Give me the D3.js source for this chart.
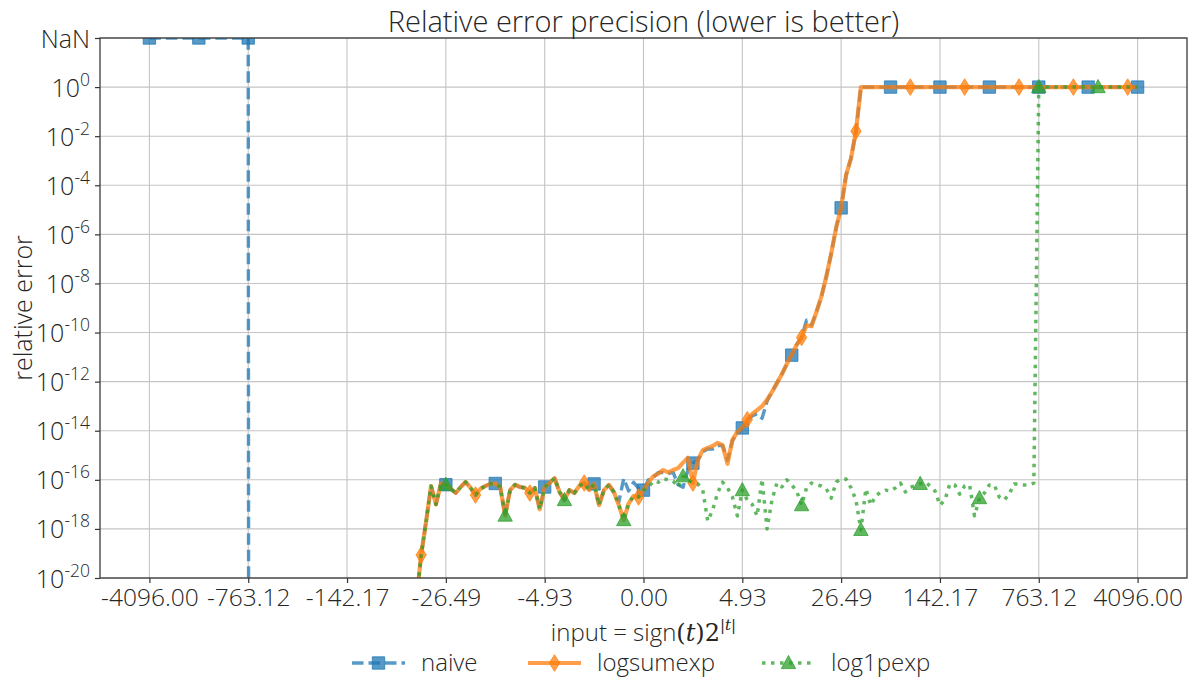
<!DOCTYPE html>
<html><head><meta charset="utf-8">
<script src="https://cdn.jsdelivr.net/npm/d3@7"></script>
<style>
body{margin:0;background:#fff;}
svg text{font-family:"Open Sans",sans-serif;font-weight:300;fill:#262626;}
</style></head><body>
<svg id="c" width="1200" height="696"></svg>
<script>
// ---------- data ----------
const sampleIndex = d3.range(0, 201);            // sample index along t
const xTickIndex = [0,20,40,60,80,100,120,140,160,180,200];
const xTickLabels = ["-4096.00","-763.12","-142.17","-26.49","-4.93","0.00","4.93","26.49","142.17","763.12","4096.00"];
const yTickValues = [1e-20,1e-18,1e-16,1e-14,1e-12,1e-10,1e-8,1e-6,1e-4,1e-2,1e0,1e2];
const yTickExponents = ["-20","-18","-16","-14","-12","-10","-8","-6","-4","-2","0",null];
const seriesNames = ["naive","logsumexp","log1pexp"];

const naive = [
NaN,NaN,NaN,NaN,NaN,NaN,NaN,NaN,NaN,NaN,
NaN,NaN,NaN,NaN,NaN,NaN,NaN,NaN,NaN,NaN,
NaN,0,0,0,0,0,0,0,0,0,
0,0,0,0,0,0,0,0,0,0,
0,0,0,0,0,0,0,0,0,0,
0,0,0,0,1e-21,8.7e-20,2.0e-18,5.6e-17,1.0e-17,7.1e-17,
6.3e-17,4.3e-17,2.9e-17,5.1e-17,8.1e-17,4.7e-17,2.4e-17,4.3e-17,5.6e-17,6.8e-17,
7.1e-17,5.1e-17,3.5e-18,3.8e-17,6.3e-17,5.1e-17,4.7e-17,2.9e-17,4.7e-17,6.3e-18,
5.1e-17,7.4e-17,1.17e-16,3.2e-17,1.5e-17,3.8e-17,2.9e-17,5.6e-17,7.4e-17,3.8e-17,
6.8e-17,9.3e-18,3.8e-17,6.2e-17,3.2e-17,1.26e-17,1.12e-16,3.5e-17,7.9e-17,4.5e-17,
3.8e-17,1.0e-16,1.26e-16,2.0e-16,2.0e-16,1.8e-16,2.0e-16,6.3e-17,5.0e-17,2.5e-16,
4.8e-16,6.3e-16,1.4e-15,1.8e-15,1.8e-15,2.5e-15,2.5e-15,6.3e-16,4.0e-15,7.9e-15,
1.3e-14,2.5e-14,4.0e-14,5.0e-14,3.2e-14,1.6e-13,3.8e-13,8.7e-13,2.0e-12,5.2e-12,
1.2e-11,3.2e-11,6.3e-11,3.2e-10,2.0e-10,6.9e-10,2.9e-9,1.9e-8,1.7e-7,1.9e-6,
1.2e-5,2.6e-4,1.26e-3,1.6e-2,1,1,1,1,1,1,
1,1,1,1,1,1,1,1,1,1,
1,1,1,1,1,1,1,1,1,1,
1,1,1,1,1,1,1,1,1,1,
1,1,1,1,1,1,1,1,1,1,
1,1,1,1,1,1,1,1,1,1,
1
];

const logsumexp = [
0,0,0,0,0,0,0,0,0,0,
0,0,0,0,0,0,0,0,0,0,
0,0,0,0,0,0,0,0,0,0,
0,0,0,0,0,0,0,0,0,0,
0,0,0,0,0,0,0,0,0,0,
0,0,0,0,1e-21,8.7e-20,2.0e-18,5.6e-17,1.0e-17,7.1e-17,
6.3e-17,4.3e-17,2.9e-17,5.1e-17,8.1e-17,4.7e-17,2.4e-17,4.3e-17,5.6e-17,6.8e-17,
7.1e-17,5.1e-17,3.5e-18,3.8e-17,6.3e-17,5.1e-17,4.7e-17,2.9e-17,4.7e-17,6.3e-18,
5.1e-17,7.4e-17,1.17e-16,3.2e-17,1.5e-17,3.8e-17,2.9e-17,5.6e-17,7.4e-17,3.8e-17,
6.8e-17,9.3e-18,3.8e-17,6.2e-17,3.2e-17,9.3e-18,2.3e-18,1.1e-17,2.2e-17,2.0e-17,
3.8e-17,7.9e-17,1.4e-16,1.8e-16,2.5e-16,2.0e-16,2.5e-16,3.0e-16,5.0e-16,7.9e-16,
7.4e-17,6.5e-16,1.6e-15,2.0e-15,2.4e-15,3.2e-15,2.6e-15,4.5e-16,4.2e-15,8.9e-15,
1.35e-14,2.8e-14,4.8e-14,6.9e-14,1.0e-13,1.8e-13,3.8e-13,8.7e-13,2.0e-12,5.2e-12,
1.26e-11,3.2e-11,6.3e-11,2.0e-10,1.8e-10,6.9e-10,2.9e-9,1.9e-8,1.7e-7,1.9e-6,
1.2e-5,2.6e-4,1.26e-3,1.6e-2,1,1,1,1,1,1,
1,1,1,1,1,1,1,1,1,1,
1,1,1,1,1,1,1,1,1,1,
1,1,1,1,1,1,1,1,1,1,
1,1,1,1,1,1,1,1,1,1,
1,1,1,1,1,1,1,1,1,1,
1
];

const log1pexp = [
0,0,0,0,0,0,0,0,0,0,
0,0,0,0,0,0,0,0,0,0,
0,0,0,0,0,0,0,0,0,0,
0,0,0,0,0,0,0,0,0,0,
0,0,0,0,0,0,0,0,0,0,
0,0,0,0,1e-21,8.7e-20,2.0e-18,5.6e-17,1.0e-17,7.1e-17,
6.3e-17,4.3e-17,2.9e-17,5.1e-17,8.1e-17,4.7e-17,2.4e-17,4.3e-17,5.6e-17,6.8e-17,
7.1e-17,5.1e-17,3.5e-18,3.8e-17,6.3e-17,5.1e-17,4.7e-17,2.9e-17,4.7e-17,6.3e-18,
5.1e-17,7.4e-17,1.17e-16,3.2e-17,1.5e-17,3.8e-17,2.9e-17,5.6e-17,7.4e-17,3.8e-17,
6.8e-17,9.3e-18,3.8e-17,6.2e-17,3.2e-17,9.3e-18,2.3e-18,1.1e-17,2.2e-17,2.0e-17,
3.8e-17,5.0e-17,8.9e-17,7.9e-17,1.12e-16,1.0e-16,8.9e-17,5.0e-17,1.4e-16,1.0e-16,
7.4e-17,6.8e-17,3.8e-17,2.1e-18,5.9e-18,2.9e-17,8.1e-17,4.7e-17,2.0e-17,3.4e-18,
3.8e-17,1.5e-17,1.0e-17,3.4e-18,1.07e-16,1.0e-18,1.5e-17,7.4e-17,5.1e-17,1.0e-16,
6.2e-17,3.5e-17,9.3e-18,4.7e-17,7.4e-17,6.2e-17,5.6e-17,4.3e-17,1.8e-17,8.1e-17,
1.07e-16,1.07e-16,4.7e-17,1.5e-17,9.1e-19,4.3e-17,9.3e-18,2.2e-17,3.2e-17,3.8e-17,
3.5e-17,4.7e-17,7.4e-17,3.2e-17,5.1e-17,5.6e-17,6.8e-17,8.1e-17,5.6e-17,3.5e-17,
9.3e-18,1.5e-17,6.8e-17,6.2e-17,2.6e-17,5.6e-17,6.2e-17,3.4e-18,1.8e-17,2.9e-17,
6.2e-17,6.2e-17,2.0e-17,1.5e-17,2.6e-17,6.8e-17,6.8e-17,6.2e-17,6.2e-17,7.4e-17,
1,1,1,1,1,1,1,1,1,1,
1,1,1,1,1,1,1,1,1,1,
1
];

// ---------- layout / styles ----------
const L = 100, R = 1187, T = 38, B = 578;
const svg = d3.select("#c");
const x = d3.scaleLinear().domain([-10, 210]).range([L, R]);
const y = d3.scaleLog().domain([1e-20, 1e2]).range([B, T]);
const NAN_LEVEL = 1e2, ZERO_LEVEL = 1e-300;
const yv = v => isNaN(v) ? NAN_LEVEL : Math.max(v, ZERO_LEVEL);

const styles = [
  {name: seriesNames[0], data: naive,     color: "#1f77b4", dash: "11.5,5", width: 3.4, every: 10, marker: "square"},
  {name: seriesNames[1], data: logsumexp, color: "#ff7f0e", dash: null,     width: 4.2, every: 11, marker: "diamond"},
  {name: seriesNames[2], data: log1pexp,  color: "#2ca02c", dash: "3.5,5.5", width: 3.5, every: 12, marker: "triangle"}
];
const ALPHA = 0.75;

function markerPath(type) {
  if (type === "square") return "M-6.2,-6.2H6.2V6.2H-6.2Z";
  if (type === "diamond") return "M0,-8.3L5.2,0L0,8.3L-5.2,0Z";
  return "M0,-7.6L7.2,5.6L-7.2,5.6Z";
}

// grid
const grid = svg.append("g");
grid.selectAll("line.v").data(xTickIndex).join("line")
  .attr("x1", d => x(d)).attr("x2", d => x(d)).attr("y1", T).attr("y2", B)
  .attr("stroke", "#c4c4c4").attr("stroke-width", 1.1);
grid.selectAll("line.h").data(yTickValues).join("line")
  .attr("x1", L).attr("x2", R).attr("y1", d => y(d)).attr("y2", d => y(d))
  .attr("stroke", "#c4c4c4").attr("stroke-width", 1.1);

// clip
svg.append("clipPath").attr("id", "plotclip").append("rect")
  .attr("x", L).attr("y", T).attr("width", R - L).attr("height", B - T);
const plot = svg.append("g").attr("clip-path", "url(#plotclip)");

const line = d3.line().x((d, i) => x(sampleIndex[i])).y(d => y(yv(d)));

styles.forEach(s => {
  plot.append("path").attr("d", line(s.data))
    .attr("fill", "none").attr("stroke", s.color).attr("stroke-opacity", ALPHA)
    .attr("stroke-width", s.width)
    .attr("stroke-dasharray", s.dash)
    .attr("stroke-linejoin", "round");
  const pts = sampleIndex.filter(i => i % s.every === 0);
  plot.selectAll(null).data(pts).join("path")
    .attr("d", markerPath(s.marker))
    .attr("transform", i => `translate(${x(sampleIndex[i])},${y(yv(s.data[i]))})`)
    .attr("fill", s.color).attr("fill-opacity", ALPHA)
    .attr("stroke", s.color).attr("stroke-opacity", ALPHA).attr("stroke-width", 1);
});

// axes
const xAxis = svg.append("g").attr("transform", `translate(0,${B})`)
  .call(d3.axisBottom(x).tickValues(xTickIndex).tickFormat((d, i) => xTickLabels[i]).tickSize(5).tickPadding(3));
xAxis.select(".domain").remove();
xAxis.selectAll(".tick line").attr("stroke", "#333").attr("stroke-width", 1.2);
xAxis.selectAll(".tick text").attr("font-size", 24.5).attr("font-family", null).attr("dy", "0.8em").attr("fill", "#262626");

const yAxis = svg.append("g").attr("transform", `translate(${L},0)`)
  .call(d3.axisLeft(y).tickValues(yTickValues).tickSize(5).tickPadding(5).tickFormat(() => ""));
yAxis.select(".domain").remove();
yAxis.selectAll(".tick line").attr("stroke", "#333").attr("stroke-width", 1.2);
yAxis.selectAll(".tick text").each(function(d, i) {
  const t = d3.select(this).attr("font-size", 25).attr("font-family", null).attr("dy", "0.36em").attr("fill", "#262626");
  const e = yTickExponents[i];
  if (e === null) { t.text("NaN"); return; }
  t.append("tspan").text("10");
  t.append("tspan").attr("dy", -11).attr("font-size", 17.5).text(e);
});

// spines
svg.append("rect").attr("x", L).attr("y", T).attr("width", R - L).attr("height", B - T)
  .attr("fill", "none").attr("stroke", "#3a3a3a").attr("stroke-width", 1.3);

// title & labels
svg.append("text").attr("x", (L + R) / 2).attr("y", 32).attr("text-anchor", "middle")
  .attr("font-size", 29).text("Relative error precision (lower is better)");

const xl = svg.append("text").attr("x", (L + R) / 2).attr("y", 641).attr("text-anchor", "middle").attr("font-size", 24);
xl.append("tspan").text("input = sign");
xl.append("tspan").style("font-family", "'DejaVu Serif',serif").style("font-weight", "400").text("(");
xl.append("tspan").style("font-family", "'DejaVu Serif',serif").style("font-style", "italic").style("font-weight", "400").text("t");
xl.append("tspan").style("font-family", "'DejaVu Serif',serif").style("font-weight", "400").text(")2");
xl.append("tspan").attr("dy", -11).attr("font-size", 15).style("font-family", "'DejaVu Serif',serif").style("font-style", "italic").style("font-weight", "400").text("|t|");

svg.append("text").attr("transform", `translate(32,${(T + B) / 2}) rotate(-90)`)
  .attr("text-anchor", "middle").attr("font-size", 25).text("relative error");

// legend
const legendX = [352, 528, 762];
const ly = 663;
styles.forEach((s, k) => {
  const g = svg.append("g");
  const x0 = legendX[k], x1 = x0 + 53;
  g.append("line").attr("x1", x0).attr("x2", x1).attr("y1", ly).attr("y2", ly)
    .attr("stroke", s.color).attr("stroke-opacity", ALPHA)
    .attr("stroke-width", s.width).attr("stroke-dasharray", s.dash);
  g.append("path").attr("d", markerPath(s.marker)).attr("transform", `translate(${(x0 + x1) / 2},${ly})`)
    .attr("fill", s.color).attr("fill-opacity", ALPHA)
    .attr("stroke", s.color).attr("stroke-opacity", ALPHA).attr("stroke-width", 1);
  g.append("text").attr("x", x1 + 16).attr("y", ly).attr("dy", "0.35em").attr("font-size", 24).text(s.name);
});
</script>
</body></html>
